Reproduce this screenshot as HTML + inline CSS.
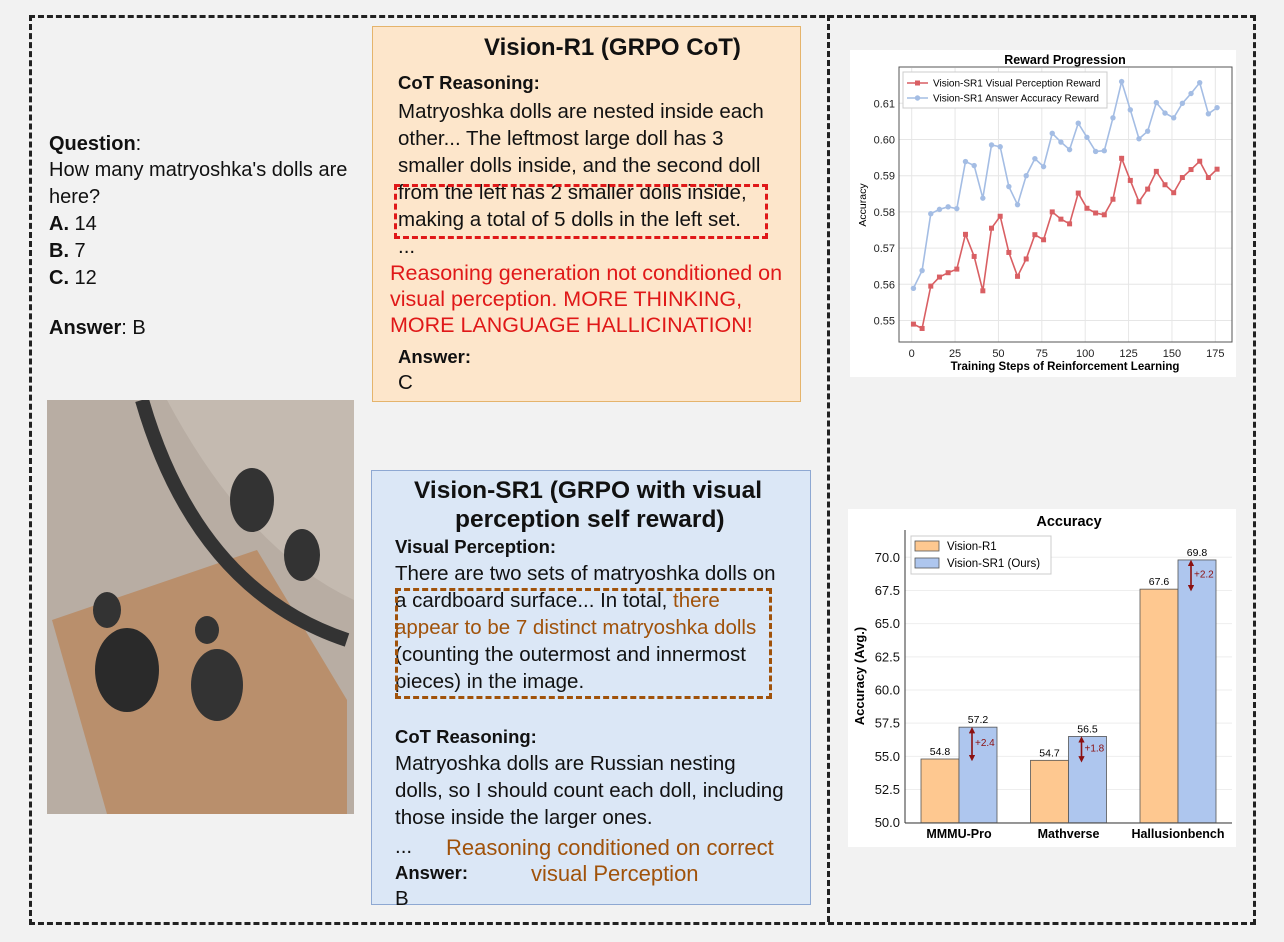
<!DOCTYPE html>
<html><head><meta charset="utf-8">
<style>
body{margin:0;width:1284px;height:942px;background:#f2f2f2;position:relative;overflow:hidden;font-family:"Liberation Sans",sans-serif;color:#111}
.a{position:absolute;white-space:nowrap}
.t{font-size:20.5px;}
.q{font-size:20px;}
.b{font-weight:bold}
</style></head><body>
<div class="a" style="left:29px;top:15px;width:1221px;height:904px;border:3px dashed #222"></div>
<div class="a" style="left:827px;top:15px;width:0;height:907px;border-left:3px dashed #222"></div>

<div>
<div class="a q" style="left:49px;top:133px"><b>Question</b>:</div>
<div class="a q" style="left:49px;top:159px">How many matryoshka's dolls are</div>
<div class="a q" style="left:49px;top:186px">here?</div>
<div class="a q" style="left:49px;top:213px"><b>A.</b> 14</div>
<div class="a q" style="left:49px;top:240px"><b>B.</b> 7</div>
<div class="a q" style="left:49px;top:267px"><b>C.</b> 12</div>
<div class="a q" style="left:49px;top:317px"><b>Answer</b>: B</div>
</div>

<svg class="a" style="left:47px;top:400px" width="307" height="414">
<rect width="307" height="414" fill="#b8ada3"/>
<path d="M0 0 L307 0 L307 200 Q200 150 120 0Z" fill="#c4bab0"/>
<path d="M5 220 L210 150 L300 300 L300 414 L60 414 Z" fill="#b98f6c"/>
<path d="M95 0 Q150 190 300 240" stroke="#333" stroke-width="14" fill="none"/>
<ellipse cx="80" cy="270" rx="32" ry="42" fill="#2a2a2a"/>
<ellipse cx="170" cy="285" rx="26" ry="36" fill="#333"/>
<ellipse cx="205" cy="100" rx="22" ry="32" fill="#333"/>
<ellipse cx="255" cy="155" rx="18" ry="26" fill="#333"/>
<ellipse cx="60" cy="210" rx="14" ry="18" fill="#333"/>
<ellipse cx="160" cy="230" rx="12" ry="14" fill="#333"/>
</svg>

<div class="a" style="left:372px;top:26px;width:427px;height:374px;background:#fde6cb;border:1px solid #e5b46c"></div>
<div class="a b" style="left:484px;top:34px;font-size:24px">Vision-R1 (GRPO CoT)</div>
<div>
<div class="a b" style="left:398px;top:72px;font-size:18.5px">CoT Reasoning:</div>
<div class="a t" style="left:398px;top:100px">Matryoshka dolls are nested inside each</div>
<div class="a t" style="left:398px;top:127px">other... The leftmost large doll has 3</div>
<div class="a t" style="left:398px;top:154px">smaller dolls inside, and the second doll</div>
<div class="a t" style="left:398px;top:181px">from the left has 2 smaller dolls inside,</div>
<div class="a t" style="left:398px;top:208px">making a total of 5 dolls in the left set.</div>
<div class="a t" style="left:398px;top:235px">...</div>
</div>
<div class="a" style="left:394px;top:184px;width:368px;height:49px;border:3px dashed #e01818"></div>
<div style="color:#e01818">
<div class="a" style="left:390px;top:261px;font-size:21.5px">Reasoning generation not conditioned on</div>
<div class="a" style="left:390px;top:287px;font-size:21.5px">visual perception. MORE THINKING,</div>
<div class="a" style="left:390px;top:313px;font-size:21.5px">MORE LANGUAGE HALLICINATION!</div>
</div>
<div class="a b" style="left:398px;top:346px;font-size:18.5px">Answer:</div>
<div class="a t" style="left:398px;top:371px">C</div>

<div class="a" style="left:371px;top:470px;width:438px;height:433px;background:#dbe7f6;border:1px solid #8ea8d2"></div>
<div class="a b" style="left:414px;top:477px;font-size:24.5px">Vision-SR1 (GRPO with visual</div>
<div class="a b" style="left:455px;top:506px;font-size:24.5px">perception self reward)</div>
<div>
<div class="a b" style="left:395px;top:536px;font-size:18.5px">Visual Perception:</div>
<div class="a t" style="left:395px;top:562px">There are two sets of matryoshka dolls on</div>
<div class="a t" style="left:395px;top:589px">a cardboard surface... In total, <span style="color:#a0520a">there</span></div>
<div class="a t" style="left:395px;top:616px;color:#a0520a">appear to be 7 distinct matryoshka dolls</div>
<div class="a t" style="left:395px;top:643px">(counting the outermost and innermost</div>
<div class="a t" style="left:395px;top:670px">pieces) in the image.</div>
<div class="a b" style="left:395px;top:726px;font-size:18.5px">CoT Reasoning:</div>
<div class="a t" style="left:395px;top:752px">Matryoshka dolls are Russian nesting</div>
<div class="a t" style="left:395px;top:779px">dolls, so I should count each doll, including</div>
<div class="a t" style="left:395px;top:806px">those inside the larger ones.</div>
<div class="a t" style="left:395px;top:835px">...</div>
<div class="a b" style="left:395px;top:862px;font-size:18.5px">Answer:</div>
<div class="a t" style="left:395px;top:887px">B</div>
</div>
<div class="a" style="left:395px;top:588px;width:371px;height:105px;border:3px dashed #a0520a"></div>
<div style="color:#a0520a">
<div class="a" style="left:446px;top:835px;font-size:22px">Reasoning conditioned on correct</div>
<div class="a" style="left:531px;top:861px;font-size:22px">visual Perception</div>
</div>

<svg class="a" style="left:0;top:0" width="1284" height="942" id="lc"></svg>
<svg class="a" style="left:0;top:0" width="1284" height="942" id="bc"></svg>

<script>
const steps=[1,6,11,16,21,26,31,36,41,46,51,56,61,66,71,76,81,86,91,96,101,106,111,116,121,126,131,136,141,146,151,156,161,166,171,176];
const perceptionReward=[0.549,0.5478,0.5595,0.562,0.5632,0.5642,0.5738,0.5677,0.5582,0.5755,0.5788,0.5688,0.5622,0.567,0.5737,0.5723,0.580,0.578,0.5767,0.5852,0.581,0.5797,0.5792,0.5835,0.5948,0.5887,0.5828,0.5863,0.5912,0.5875,0.5853,0.5895,0.5917,0.594,0.5895,0.5918];
const accuracyReward=[0.5589,0.5638,0.5795,0.5807,0.5814,0.5809,0.5939,0.5928,0.5838,0.5985,0.598,0.587,0.582,0.59,0.5947,0.5925,0.6017,0.5993,0.5972,0.6045,0.6006,0.5967,0.5969,0.606,0.616,0.6082,0.6002,0.6023,0.6102,0.6073,0.606,0.61,0.6127,0.6157,0.6071,0.6088];
const xTicks=[0,25,50,75,100,125,150,175];
const yTicks=[0.55,0.56,0.57,0.58,0.59,0.60,0.61];
const yTickLabels=["0.55","0.56","0.57","0.58","0.59","0.60","0.61"];

const categories=["MMMU-Pro","Mathverse","Hallusionbench"];
const visionR1=[54.8,54.7,67.6];
const visionSR1=[57.2,56.5,69.8];
const barYTicks=[50,52.5,55,57.5,60,62.5,65,67.5,70];

const NS="http://www.w3.org/2000/svg";
function mk(p,tag,at,txt){const e=document.createElementNS(NS,tag);for(const k in at)e.setAttribute(k,at[k]);if(txt!==undefined)e.textContent=txt;p.appendChild(e);return e;}

// line chart
const lc=document.getElementById('lc');
mk(lc,'rect',{x:850,y:50,width:386,height:327,fill:'#fff'});
const X=v=>911.7+(v)*1.735, Y=v=>103.3+(0.61-v)*3620;
for(const t of xTicks){const g=mk(lc,'line',{x1:X(t),x2:X(t),y1:68,y2:342,stroke:'#e6e6e6','stroke-width':1});
 const tl=mk(lc,'text',{x:X(t),y:357,'font-size':11,'text-anchor':'middle',fill:'#222'},t);}
yTicks.forEach((t,i)=>{const g=mk(lc,'line',{x1:899,x2:1232,y1:Y(t),y2:Y(t),stroke:'#e6e6e6'});
 const tl=mk(lc,'text',{x:895,y:Y(t)+4,'font-size':11,'text-anchor':'end',fill:'#222'},yTickLabels[i]);});
mk(lc,'rect',{x:899,y:67,width:333,height:275,fill:'none',stroke:'#555'});
function series(vals,col,shape,name){
 const pts=steps.map((s,i)=>X(s)+','+Y(vals[i])).join(' ');
 const l=mk(lc,'polyline',{points:pts,fill:'none',stroke:col,'stroke-width':1.6});
 
 steps.forEach((s,i)=>{let m;if(shape==='sq')m=mk(lc,'rect',{x:X(s)-2.5,y:Y(vals[i])-2.5,width:5,height:5,fill:col});else m=mk(lc,'circle',{cx:X(s),cy:Y(vals[i]),r:2.7,fill:col});
 });
}
series(accuracyReward,'#a4bde4','ci','answer-accuracy-reward');
series(perceptionReward,'#d95f63','sq','visual-perception-reward');
let e=mk(lc,'text',{x:1065,y:64,'font-size':12.5,'font-weight':'bold','text-anchor':'middle'},'Reward Progression');
e=mk(lc,'text',{x:1065,y:370,'font-size':11.5,'font-weight':'bold','text-anchor':'middle'},'Training Steps of Reinforcement Learning');
e=mk(lc,'text',{x:866,y:205,'font-size':10.5,'text-anchor':'middle',transform:'rotate(-90 866 205)'},'Accuracy');
mk(lc,'rect',{x:903,y:72,width:204,height:36,fill:'#fff',stroke:'#ccc'});
mk(lc,'line',{x1:907,x2:928,y1:83,y2:83,stroke:'#d95f63','stroke-width':1.6});mk(lc,'rect',{x:915,y:80.5,width:5,height:5,fill:'#d95f63'});
e=mk(lc,'text',{x:933,y:86.5,'font-size':10},'Vision-SR1 Visual Perception Reward');
mk(lc,'line',{x1:907,x2:928,y1:98,y2:98,stroke:'#a4bde4','stroke-width':1.6});mk(lc,'circle',{cx:917.5,cy:98,r:2.7,fill:'#a4bde4'});
e=mk(lc,'text',{x:933,y:101.5,'font-size':10},'Vision-SR1 Answer Accuracy Reward');

// bar chart
const bc=document.getElementById('bc');
mk(bc,'rect',{x:848,y:509,width:388,height:338,fill:'#fff'});
const BY=v=>822.7-(v-50)*13.27;
const centers=[959,1068.5,1178];const bw=38;
barYTicks.forEach(t=>{const g=mk(bc,'line',{x1:905,x2:1232,y1:BY(t),y2:BY(t),stroke:'#eee'});
 const tl=mk(bc,'text',{x:900,y:BY(t)+4.5,'font-size':13,'text-anchor':'end',fill:'#111'},t.toFixed(1));});
mk(bc,'line',{x1:905,x2:905,y1:530,y2:823,stroke:'#333'});mk(bc,'line',{x1:905,x2:1232,y1:823,y2:823,stroke:'#333'});
const defs=mk(bc,'defs',{});const mkr=mk(defs,'marker',{id:'ah',viewBox:'0 0 10 10',refX:5,refY:5,markerWidth:4,markerHeight:4,orient:'auto-start-reverse'});mk(mkr,'path',{d:'M0 0 L10 5 L0 10z',fill:'#8b1010'});
categories.forEach((c,i)=>{
 const cx=centers[i];
 let r=mk(bc,'rect',{x:cx-bw,y:BY(visionR1[i]),width:bw,height:BY(50)-BY(visionR1[i]),fill:'#fec890',stroke:'#555','stroke-width':0.8});
 r=mk(bc,'rect',{x:cx,y:BY(visionSR1[i]),width:bw,height:BY(50)-BY(visionSR1[i]),fill:'#aec6ee',stroke:'#555','stroke-width':0.8});
 let t=mk(bc,'text',{x:cx-bw/2,y:BY(visionR1[i])-4,'font-size':10.5,'text-anchor':'middle'},visionR1[i].toFixed(1));
 t=mk(bc,'text',{x:cx+bw/2,y:BY(visionSR1[i])-4,'font-size':10.5,'text-anchor':'middle'},visionSR1[i].toFixed(1));
 const a=mk(bc,'line',{x1:cx+bw/2-6,x2:cx+bw/2-6,y1:BY(visionSR1[i])+3,y2:BY(visionR1[i])-1,stroke:'#8b1010','stroke-width':1.6,'marker-start':'url(#ah)','marker-end':'url(#ah)'});
 t=mk(bc,'text',{x:cx+bw/2-3,y:(BY(visionSR1[i])+BY(visionR1[i]))/2+3,'font-size':10,fill:'#8b1010'},'+'+(visionSR1[i]-visionR1[i]).toFixed(1));
 t=mk(bc,'text',{x:cx,y:838,'font-size':12.5,'font-weight':'bold','text-anchor':'middle'},c);
});
e=mk(bc,'text',{x:1069,y:526,'font-size':14.5,'font-weight':'bold','text-anchor':'middle'},'Accuracy');
e=mk(bc,'text',{x:864,y:676,'font-size':13,'font-weight':'bold','text-anchor':'middle',transform:'rotate(-90 864 676)'},'Accuracy (Avg.)');
mk(bc,'rect',{x:911,y:536,width:140,height:38,fill:'#fff',stroke:'#ccc'});
mk(bc,'rect',{x:915,y:541,width:24,height:10,fill:'#fec890',stroke:'#555','stroke-width':0.8});
e=mk(bc,'text',{x:947,y:550,'font-size':11.5},'Vision-R1');
mk(bc,'rect',{x:915,y:558,width:24,height:10,fill:'#aec6ee',stroke:'#555','stroke-width':0.8});
e=mk(bc,'text',{x:947,y:567,'font-size':11.5},'Vision-SR1 (Ours)');
</script>
</body></html>
